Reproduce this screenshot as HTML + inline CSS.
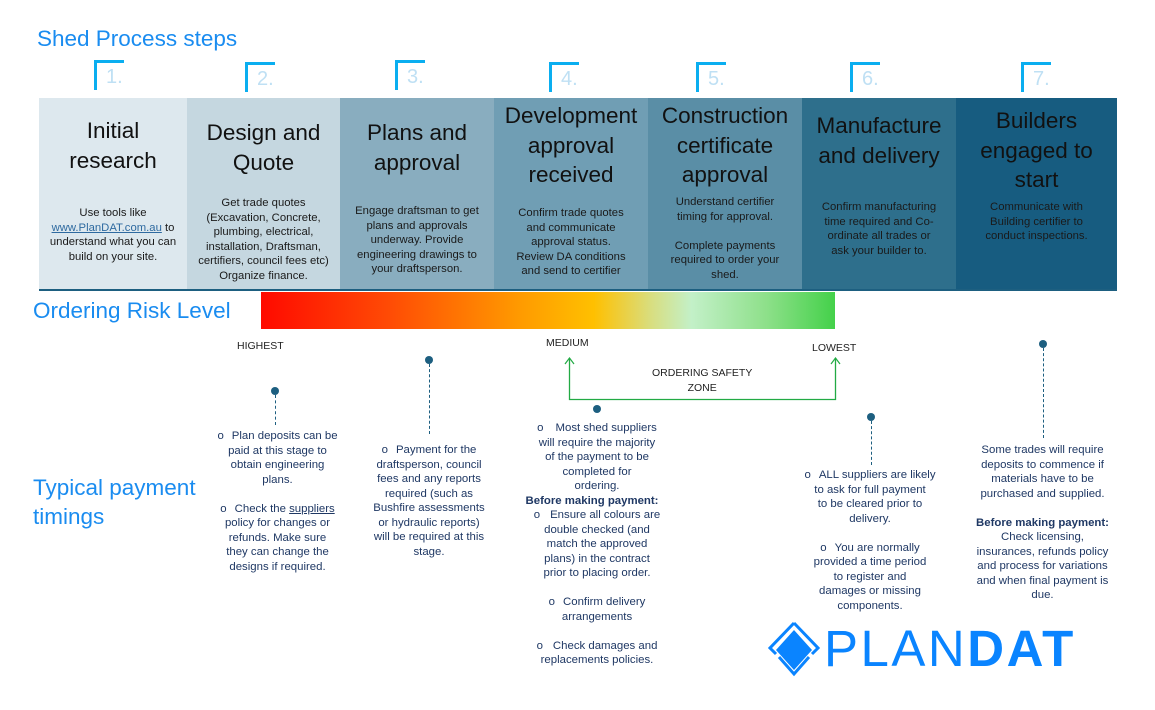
<!DOCTYPE html>
<html><head><meta charset="utf-8"><style>
*{margin:0;padding:0;box-sizing:border-box}
body{width:1155px;height:710px;background:#fff;position:relative;overflow:hidden;font-family:"Liberation Sans",sans-serif}
.a{position:absolute}
.h{color:#1a8cf0;font-size:22.5px;white-space:nowrap}
.col{position:absolute;top:98px;height:191px;text-align:center;color:#111}
.t{position:absolute;left:-6px;right:-6px;font-size:22.5px;line-height:29.5px}
.d{position:absolute;left:-4px;right:-4px;font-size:11.3px;line-height:14.5px;color:#1a1a1a}
.num{position:absolute;width:30px;height:30px;border-left:3px solid #0aaef0;border-top:3px solid #0aaef0;color:#bfe0f4;font-size:20px;padding-left:9px;line-height:28px}
.b{position:absolute;font-size:11.4px;line-height:14.5px;color:#1f3864;text-align:center;white-space:nowrap}
.pin{position:absolute;width:8px;height:8px;border-radius:50%;background:#1d5f80}
.dash{position:absolute;width:0;border-left:1.2px dashed #1d5f80}
.lab{position:absolute;font-size:10.5px;color:#222}
</style></head><body>
<div class="a h" style="left:37px;top:26px">Shed Process steps</div>

<div class="num" style="left:94px;top:60px">1.</div>
<div class="num" style="left:245px;top:62px">2.</div>
<div class="num" style="left:395px;top:60px">3.</div>
<div class="num" style="left:549px;top:62px">4.</div>
<div class="num" style="left:696px;top:62px">5.</div>
<div class="num" style="left:850px;top:62px">6.</div>
<div class="num" style="left:1021px;top:62px">7.</div>

<div class="col" style="left:39px;width:148px;background:#dde8ee"><div class="t" style="top:18px">Initial<br>research</div><div class="d" style="top:108px">Use tools like<br><span style="color:#2e6aa0;text-decoration:underline">www.PlanDAT.com.au</span> to<br>understand what you can<br>build on your site.</div></div>
<div class="col" style="left:187px;width:153px;background:#c5d7e0"><div class="t" style="top:20px">Design and<br>Quote</div><div class="d" style="top:98px">Get trade quotes<br>(Excavation, Concrete,<br>plumbing, electrical,<br>installation, Draftsman,<br>certifiers, council fees etc)<br>Organize finance.</div></div>
<div class="col" style="left:340px;width:154px;background:#89adbf"><div class="t" style="top:20px">Plans and<br>approval</div><div class="d" style="top:106px">Engage draftsman to get<br>plans and approvals<br>underway. Provide<br>engineering drawings to<br>your draftsperson.</div></div>
<div class="col" style="left:494px;width:154px;background:#709eb4"><div class="t" style="top:3px">Development<br>approval<br>received</div><div class="d" style="top:108px">Confirm trade quotes<br>and communicate<br>approval status.<br>Review DA conditions<br>and send to certifier</div></div>
<div class="col" style="left:648px;width:154px;background:#5a8ea6"><div class="t" style="top:3px">Construction<br>certificate<br>approval</div><div class="d" style="top:97px">Understand certifier<br>timing for approval.<br><br>Complete payments<br>required to order your<br>shed.</div></div>
<div class="col" style="left:802px;width:154px;background:#2e6f8c"><div class="t" style="top:13px">Manufacture<br>and delivery</div><div class="d" style="top:102px">Confirm manufacturing<br>time required and Co-<br>ordinate all trades or<br>ask your builder to.</div></div>
<div class="col" style="left:956px;width:161px;background:#175c80"><div class="t" style="top:8px">Builders<br>engaged to<br>start</div><div class="d" style="top:102px">Communicate with<br>Building certifier to<br>conduct inspections.</div></div>
<div class="a" style="left:39px;top:289px;width:1078px;height:2px;background:#1d5f80"></div>

<div class="a h" style="left:33px;top:298px">Ordering Risk Level</div>
<div class="a" style="left:261px;top:292px;width:574px;height:37px;background:linear-gradient(90deg,#ff0a00 0%,#ff4a05 22%,#ff9a00 45%,#ffc000 58%,#d8de80 68%,#c3f0c8 75%,#8ee08a 88%,#44d14a 100%)"></div>

<div class="lab" style="left:237px;top:340px">HIGHEST</div>
<div class="lab" style="left:546px;top:337px">MEDIUM</div>
<div class="lab" style="left:812px;top:342px">LOWEST</div>
<div class="lab" style="left:652px;top:366px;text-align:center;line-height:15px">ORDERING SAFETY<br>ZONE</div>
<svg class="a" style="left:560px;top:355px" width="290" height="50"><path d="M9.5,3 V44.5 H275.5 V3" fill="none" stroke="#22aa44" stroke-width="1.3"/><path d="M5,9 L9.5,3 L14,9 M271,9 L275.5,3 L280,9" fill="none" stroke="#22aa44" stroke-width="1.2"/></svg>

<div class="a h" style="left:33px;top:473px;line-height:29px">Typical payment<br>timings</div>

<div class="pin" style="left:271px;top:387px"></div><div class="dash" style="left:275px;top:395px;height:30px"></div>
<div class="pin" style="left:425px;top:356px"></div><div class="dash" style="left:429px;top:364px;height:70px"></div>
<div class="pin" style="left:593px;top:405px"></div>
<div class="pin" style="left:867px;top:413px"></div><div class="dash" style="left:871px;top:421px;height:44px"></div>
<div class="pin" style="left:1039px;top:340px"></div><div class="dash" style="left:1043px;top:348px;height:90px"></div>

<div class="b" style="left:205px;top:429px;width:145px"><span style="margin-right:8px">o</span>Plan deposits can be<br>paid at this stage to<br>obtain engineering<br>plans.<br><br><span style="margin-right:8px">o</span>Check the <u>suppliers</u><br>policy for changes or<br>refunds. Make sure<br>they can change the<br>designs if required.</div>
<div class="b" style="left:365px;top:443px;width:128px"><span style="margin-right:8px">o</span>Payment for the<br>draftsperson, council<br>fees and any reports<br>required (such as<br>Bushfire assessments<br>or hydraulic reports)<br>will be required at this<br>stage.</div>
<div class="b" style="left:527px;top:421px;width:140px"><span style="margin-right:12px">o</span>Most shed suppliers<br>will require the majority<br>of the payment to be<br>completed for<br>ordering.<br><b style="margin-left:-10px">Before making payment:</b><br><span style="margin-right:10px">o</span>Ensure all colours are<br>double checked (and<br>match the approved<br>plans) in the contract<br>prior to placing order.<br><br><span style="margin-right:8px">o</span>Confirm delivery<br>arrangements<br><br><span style="margin-right:10px">o</span>Check damages and<br>replacements policies.</div>
<div class="b" style="left:790px;top:468px;width:160px"><span style="margin-right:8px">o</span>ALL suppliers are likely<br>to ask for full payment<br>to be cleared prior to<br>delivery.<br><br><span style="margin-right:8px">o</span>You are normally<br>provided a time period<br>to register and<br>damages or missing<br>components.</div>
<div class="b" style="left:965px;top:443px;width:155px">Some trades will require<br>deposits to commence if<br>materials have to be<br>purchased and supplied.<br><br><b>Before making payment:</b><br>Check licensing,<br>insurances, refunds policy<br>and process for variations<br>and when final payment is<br>due.</div>

<svg class="a" style="left:768px;top:621px" width="52" height="58"><path d="M26,2 L50,27 L44,33 M26,2 L2,27 L8,33" fill="none" stroke="#0a84ff" stroke-width="3"/><path d="M26,9 L44,29 L26,49 L8,29 Z" fill="#0a84ff"/><path d="M11,36 L26,53 L41,36" fill="none" stroke="#0a84ff" stroke-width="3"/></svg>
<div class="a" style="left:824px;top:620px;font-size:51px;line-height:58px;color:#0a84ff;letter-spacing:2.5px;white-space:nowrap"><span>PLAN</span><b>DAT</b></div>
</body></html>
